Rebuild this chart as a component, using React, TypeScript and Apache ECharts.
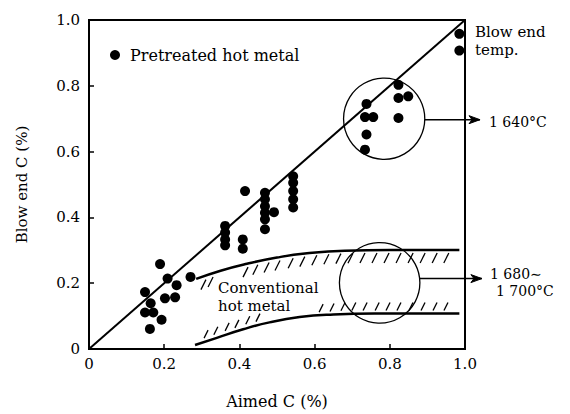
import React, { useEffect, useRef } from "react";
import * as echarts from "echarts";

// Pretreated hot metal (Aimed C %, Blow end C %)
const pretreatedX = [
  0.149, 0.189, 0.209, 0.233, 0.27, 0.164, 0.202, 0.229, 0.149, 0.171, 0.193, 0.162,
  0.362, 0.362, 0.362, 0.362, 0.409, 0.409, 0.415,
  0.468, 0.468, 0.468, 0.468, 0.468, 0.468, 0.492,
  0.543, 0.543, 0.543, 0.543, 0.543,
  0.738, 0.734, 0.756, 0.738, 0.734, 0.823, 0.823, 0.849, 0.823,
  0.985, 0.985,
];
const pretreatedY = [
  0.173, 0.258, 0.214, 0.194, 0.219, 0.139, 0.154, 0.157, 0.111, 0.111, 0.089, 0.061,
  0.374, 0.354, 0.333, 0.315, 0.333, 0.305, 0.48,
  0.475, 0.455, 0.434, 0.414, 0.394, 0.364, 0.416,
  0.525, 0.505, 0.48, 0.455, 0.43,
  0.745, 0.705, 0.705, 0.652, 0.606, 0.803, 0.763, 0.768, 0.702,
  0.958, 0.907,
];

// Reference line (Aimed C = Blow end C)
const diagX = [0, 1];
const diagY = [0, 1];

// Conventional hot metal band
const upperX = [0.285, 0.35, 0.42, 0.5, 0.58, 0.68, 0.8, 0.985];
const upperY = [0.213, 0.238, 0.259, 0.278, 0.291, 0.299, 0.301, 0.301];
const lowerX = [0.282, 0.34, 0.41, 0.48, 0.56, 0.65, 0.76, 0.985];
const lowerY = [0.012, 0.034, 0.06, 0.081, 0.097, 0.105, 0.108, 0.108];

// Hatch marks along the band edges
const upperHatchX = [0.303, 0.322, 0.415, 0.441, 0.471, 0.5, 0.535, 0.566, 0.598, 0.63, 0.662, 0.694, 0.726, 0.758, 0.79, 0.822, 0.854, 0.886, 0.918, 0.949];
const upperHatchY = [0.22, 0.228, 0.258, 0.265, 0.272, 0.278, 0.285, 0.29, 0.294, 0.297, 0.299, 0.3, 0.301, 0.301, 0.301, 0.301, 0.301, 0.301, 0.301, 0.301];
const lowerHatchX = [0.314, 0.34, 0.37, 0.396, 0.425, 0.452, 0.62, 0.649, 0.678, 0.707, 0.737, 0.769, 0.798, 0.827, 0.859, 0.891, 0.923, 0.952];
const lowerHatchY = [0.024, 0.034, 0.046, 0.055, 0.066, 0.074, 0.103, 0.105, 0.107, 0.108, 0.108, 0.108, 0.108, 0.108, 0.108, 0.108, 0.108, 0.108];

// Temperature circles with arrows
const circleCX = [0.785, 0.773];
const circleCY = [0.7, 0.201];
const circleR = [0.108, 0.107];
const arrowY = [0.697, 0.214];
const arrowEndX = [1.04, 1.045];

const xTicks = ["0", "0.2", "0.4", "0.6", "0.8", "1.0"];
const yTicks = ["0", "0.2", "0.4", "0.6", "0.8", "1.0"];

const FONT = "'DejaVu Serif', 'Liberation Serif', serif";

export default function App() {
  const ref = useRef<HTMLDivElement>(null);
  useEffect(() => {
    if (!ref.current) return;
    const chart = echarts.init(ref.current, undefined, { renderer: "svg" });
    const tickFmt = (arr: string[]) => (v: number) => arr[Math.round(v / 0.2)] ?? "";
    const hatchData = [
      ...upperHatchX.map((x, i) => [x, upperHatchY[i], 1]),
      ...lowerHatchX.map((x, i) => [x, lowerHatchY[i], -1]),
    ];
    const circleData = circleCX.map((cx, i) => [cx, circleCY[i], circleR[i], arrowY[i], arrowEndX[i]]);
    const textEl = (text: string, x: number, y: number, size = 15) => ({
      type: "text",
      x,
      y,
      style: { text, fill: "#000", fontFamily: FONT, fontSize: size, verticalAlign: "middle" },
    });
    chart.setOption({
      animation: false,
      backgroundColor: "#fff",
      grid: { left: 89, right: 105, top: 20, bottom: 63, show: true, borderColor: "#000", borderWidth: 2 },
      legend: {
        data: ["Pretreated hot metal"],
        left: 105,
        top: 42,
        icon: "circle",
        itemWidth: 10,
        itemHeight: 10,
        textStyle: { color: "#000", fontFamily: FONT, fontSize: 16, padding: [0, 0, 0, 5] },
      },
      xAxis: {
        type: "value",
        min: 0,
        max: 1,
        interval: 0.2,
        name: "Aimed C (%)",
        nameLocation: "middle",
        nameGap: 44,
        nameTextStyle: { color: "#000", fontFamily: FONT, fontSize: 16 },
        axisLine: { lineStyle: { color: "#000", width: 2 } },
        axisTick: { inside: true, length: 5, lineStyle: { color: "#000", width: 1.5 } },
        axisLabel: { color: "#000", fontFamily: FONT, fontSize: 15, margin: 7, formatter: tickFmt(xTicks) },
        splitLine: { show: false },
      },
      yAxis: {
        type: "value",
        min: 0,
        max: 1,
        interval: 0.2,
        name: "Blow end C (%)",
        nameLocation: "middle",
        nameGap: 60,
        nameTextStyle: { color: "#000", fontFamily: FONT, fontSize: 15 },
        axisLine: { lineStyle: { color: "#000", width: 2 } },
        axisTick: { inside: true, length: 5, lineStyle: { color: "#000", width: 1.5 } },
        axisLabel: { color: "#000", fontFamily: FONT, fontSize: 15, margin: 9, formatter: tickFmt(yTicks) },
        splitLine: { show: false },
      },
      series: [
        {
          type: "line",
          data: diagX.map((x, i) => [x, diagY[i]]),
          symbol: "none",
          lineStyle: { color: "#000", width: 2 },
          silent: true,
          z: 2,
        },
        {
          type: "line",
          data: upperX.map((x, i) => [x, upperY[i]]),
          symbol: "none",
          smooth: 0.5,
          lineStyle: { color: "#000", width: 2.5 },
          silent: true,
        },
        {
          type: "line",
          data: lowerX.map((x, i) => [x, lowerY[i]]),
          symbol: "none",
          smooth: 0.5,
          lineStyle: { color: "#000", width: 2.5 },
          silent: true,
        },
        {
          type: "custom",
          data: hatchData,
          silent: true,
          renderItem: (params: any, api: any) => {
            const p = api.coord([api.value(0), api.value(1)]);
            const d = api.value(2);
            const shape =
              d > 0
                ? { x1: p[0] + 3, y1: p[1] + 3, x2: p[0] - 2, y2: p[1] + 13 }
                : { x1: p[0] - 3, y1: p[1] - 3, x2: p[0] + 1, y2: p[1] - 11 };
            return { type: "line", shape, style: { stroke: "#000", lineWidth: 1.3 } };
          },
        },
        {
          type: "custom",
          data: circleData,
          silent: true,
          clip: false,
          renderItem: (params: any, api: any) => {
            const c = api.coord([api.value(0), api.value(1)]);
            const r = api.size([api.value(2), 0])[0];
            const ay = api.coord([0, api.value(3)])[1];
            const ex = api.coord([api.value(4), 0])[0];
            const dy = ay - c[1];
            const sx = c[0] + Math.sqrt(Math.max(0, r * r - dy * dy));
            return {
              type: "group",
              children: [
                { type: "circle", shape: { cx: c[0], cy: c[1], r }, style: { fill: "none", stroke: "#000", lineWidth: 1.3 } },
                { type: "line", shape: { x1: sx, y1: ay, x2: ex, y2: ay }, style: { stroke: "#000", lineWidth: 1.5 } },
                {
                  type: "polygon",
                  shape: { points: [[ex - 11, ay - 4], [ex, ay], [ex - 11, ay + 4], [ex - 8, ay]] },
                  style: { fill: "#000", stroke: "#000", lineWidth: 1 },
                },
              ],
            };
          },
        },
        {
          name: "Pretreated hot metal",
          type: "scatter",
          data: pretreatedX.map((x, i) => [x, pretreatedY[i]]),
          symbol: "circle",
          symbolSize: 10,
          itemStyle: { color: "#000", opacity: 1 },
          z: 5,
        },
      ],
      graphic: [
        textEl("Blow end", 475, 32),
        textEl("temp.", 475, 50),
        textEl("1 640°C", 489, 122, 14),
        textEl("1 680∼", 490, 274, 14),
        textEl("1 700°C", 496, 291, 14),
        textEl("Conventional", 218, 288),
        textEl("hot metal", 218, 306),
      ],
    });
    return () => chart.dispose();
  }, []);
  return <div ref={ref} style={{ width: 570, height: 414, position: "absolute", left: 0, top: 0 }} />;
}
